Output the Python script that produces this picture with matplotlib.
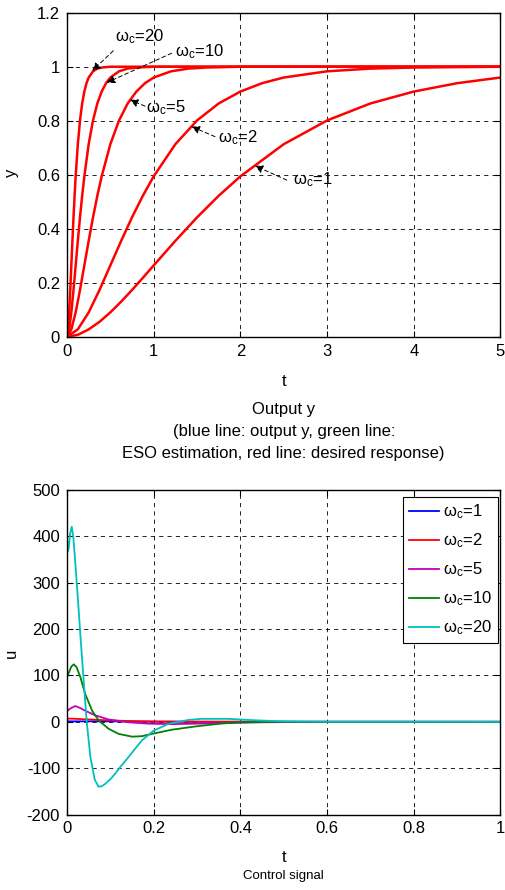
import numpy as np
import matplotlib
matplotlib.use("Agg")
import matplotlib.pyplot as plt

plt.rcParams['font.family'] = ['Liberation Sans', 'DejaVu Sans']
plt.rcParams['font.size'] = 12
plt.rcParams['mathtext.fontset'] = 'custom'
plt.rcParams['mathtext.rm'] = 'Liberation Sans'
plt.rcParams['axes.unicode_minus'] = False

# --- Data: desired response y(t) for each omega_c ---
t_w1 = [0, 0.125, 0.25, 0.375, 0.5, 0.625, 0.75, 0.875, 1, 1.25, 1.5, 1.75, 2, 2.5, 3, 3.5, 4, 4.5, 5]
y_w1 = [0, 0.007, 0.027, 0.055, 0.090, 0.130, 0.173, 0.218, 0.264, 0.355, 0.442, 0.522, 0.594, 0.713, 0.801,
        0.864, 0.908, 0.939, 0.960]

t_w2 = [0, 0.125, 0.25, 0.375, 0.5, 0.625, 0.75, 0.875, 1, 1.25, 1.5, 1.75, 2, 2.25, 2.5, 3, 3.5, 4, 5]
y_w2 = [0, 0.027, 0.090, 0.173, 0.264, 0.355, 0.442, 0.522, 0.594, 0.713, 0.801, 0.864, 0.908, 0.939, 0.960, 0.983, 0.993, 0.997, 1.0]

t_w5 = [0, 0.05, 0.1, 0.15, 0.2, 0.25, 0.3, 0.35, 0.4, 0.5, 0.6, 0.7, 0.8, 0.9, 1.0, 1.2, 1.4, 1.6, 2.0, 5.0]
y_w5 = [0, 0.027, 0.090, 0.173, 0.264, 0.355, 0.442, 0.522, 0.594, 0.713, 0.801, 0.864, 0.908, 0.939, 0.960, 0.983, 0.993, 0.997, 1.0, 1.0]

t_w10 = [0, 0.025, 0.05, 0.075, 0.1, 0.125, 0.15, 0.175, 0.2, 0.25, 0.3, 0.35, 0.4, 0.45, 0.5, 0.6, 0.7, 0.8, 1.0, 5.0]
y_w10 = [0, 0.027, 0.090, 0.173, 0.264, 0.355, 0.442, 0.522, 0.594, 0.713, 0.801, 0.864, 0.908, 0.939, 0.960, 0.983, 0.993, 0.997, 1.0, 1.0]

t_w20 = [0, 0.0125, 0.025, 0.0375, 0.05, 0.0625, 0.075, 0.0875, 0.1, 0.125, 0.15, 0.175, 0.2, 0.225, 0.25, 0.3, 0.35, 0.4, 0.5, 5.0]
y_w20 = [0, 0.027, 0.090, 0.173, 0.264, 0.355, 0.442, 0.522, 0.594, 0.713, 0.801, 0.864, 0.908, 0.939, 0.960, 0.983, 0.993, 0.997, 1.0, 1.0]

# annotation labels: (text, arrow head, arrow tail, text anchor)
ann_labels = ['20', '10', '5', '2', '1']
ann_head = [(0.292, 0.985), (0.458, 0.941), (0.727, 0.877), (1.438, 0.778), (2.168, 0.633)]
ann_tail = [(0.534, 1.059), (1.207, 1.050), (0.900, 0.854), (1.707, 0.741), (2.535, 0.580)]
ann_text = [(0.55, 1.095), (1.25, 1.040), (0.91, 0.833), (1.745, 0.719), (2.61, 0.566)]

# --- Data: control signal u(t) ---
t_u1 = [0, 0.05, 0.1, 0.2, 0.4, 1.0]
u1 = [1, 1, 1, 0.5, 0.2, 0]

t_u2 = [0, 0.02, 0.05, 0.1, 0.15, 0.2, 0.3, 1.0]
u2 = [7, 6.5, 5, 3, 1.5, 0.5, 0, 0]

t_u5 = [0, 0.008, 0.019, 0.03, 0.042, 0.065, 0.096, 0.142, 0.188, 0.242, 0.296, 0.35, 0.45, 0.6, 1.0]
u5 = [23, 29, 34, 30, 24, 14, 5, -1, -4, -5, -4, -3, -1, 0, 0]

t_u10 = [0, 0.005, 0.01, 0.0155, 0.022, 0.031, 0.042, 0.058, 0.073, 0.096, 0.119, 0.15, 0.173, 0.196, 0.242, 0.296, 0.353, 0.4, 0.5, 1.0]
u10 = [96, 108, 119, 124, 118, 96, 60, 24, 3, -15, -26, -32, -31, -26, -17, -10, -4, -1, 0, 0]

t_u20 = [0, 0.002, 0.004, 0.007, 0.011, 0.0145, 0.019, 0.027, 0.031, 0.0385, 0.0455, 0.054, 0.064, 0.073, 0.08,
         0.088, 0.1, 0.111, 0.125, 0.142, 0.158, 0.173, 0.2, 0.235, 0.28, 0.31, 0.37, 0.44, 0.5, 0.6, 1.0]
u20 = [395, 368, 374, 405, 421, 400, 345, 240, 185, 88, 0, -76, -125, -140, -139,
       -134, -124, -112, -95, -76, -57, -40, -19, -4, 4, 6.5, 6.5, 3, 1, 0, 0]

u_labels = ['1', '2', '5', '10', '20']
u_colors = ['#0000ff', '#ff0000', '#bf00bf', '#008000', '#00bfbf']


def style_axes(ax):
    ax.grid(True, color='k', linestyle=(0, (5, 5)), linewidth=0.6)
    ax.tick_params(direction='in', top=True, right=True, length=4, width=0.8, labelsize=12)
    ax.tick_params(axis='x', pad=5)
    ax.tick_params(axis='y', pad=5)
    for sp in ax.spines.values():
        sp.set_linewidth(1.0)


fig = plt.figure(figsize=(5.06, 8.9), dpi=100)

# --- Top panel: output y ---
ax1 = fig.add_axes([0.1324, 0.6217, 0.8567, 0.364])
for tt, yy in [(t_w1, y_w1), (t_w2, y_w2), (t_w5, y_w5), (t_w10, y_w10), (t_w20, y_w20)]:
    ax1.plot(tt, yy, color='#ff0000', linewidth=1.8)

for lab, head, tail, pos in zip(ann_labels, ann_head, ann_tail, ann_text):
    ax1.annotate('', xy=head, xytext=tail,
                 arrowprops=dict(arrowstyle='-|>', linestyle=(0, (4, 3)), lw=0.7, color='k',
                                 mutation_scale=12, shrinkA=0, shrinkB=0))
    ax1.text(pos[0], pos[1], r'$\mathregular{\omega_c}$=' + lab, fontsize=12, ha='left', va='baseline')

ax1.set_xlim(0, 5)
ax1.set_ylim(0, 1.2)
ax1.set_xticks([0, 1, 2, 3, 4, 5])
ax1.set_yticks([0, 0.2, 0.4, 0.6, 0.8, 1.0, 1.2])
ax1.set_yticklabels(['0', '0.2', '0.4', '0.6', '0.8', '1', '1.2'])
style_axes(ax1)
ax1.set_xlabel('t')
ax1.xaxis.label.set_va('center')
ax1.xaxis.set_label_coords(0.5, -0.137)
ax1.set_ylabel('y')
ax1.yaxis.label.set_va('center')
ax1.yaxis.set_label_coords(-0.128, 0.505)

caption = ['Output y', '(blue line: output y, green line:', 'ESO estimation, red line: desired response)']
for i, line in enumerate(caption):
    ax1.text(0.5, -0.226 - i * 0.067, line, transform=ax1.transAxes, ha='center', va='center', fontsize=12)

# --- Bottom panel: control signal u ---
ax2 = fig.add_axes([0.1324, 0.0848, 0.8567, 0.3646])
for tt, uu, lab, col in zip([t_u1, t_u2, t_u5, t_u10, t_u20], [u1, u2, u5, u10, u20], u_labels, u_colors):
    ax2.plot(tt, uu, color=col, linewidth=1.3, label=r'$\mathregular{\omega_c}$=' + lab)

ax2.set_xlim(0, 1)
ax2.set_ylim(-200, 500)
ax2.set_xticks([0, 0.2, 0.4, 0.6, 0.8, 1.0])
ax2.set_xticklabels(['0', '0.2', '0.4', '0.6', '0.8', '1'])
ax2.set_yticks(np.arange(-200, 501, 100))
style_axes(ax2)
ax2.set_xlabel('t')
ax2.xaxis.label.set_va('center')
ax2.xaxis.set_label_coords(0.5, -0.131)
ax2.set_ylabel('u')
ax2.yaxis.label.set_va('center')
ax2.yaxis.set_label_coords(-0.128, 0.498)
ax2.text(0.5, -0.19, 'Control signal', transform=ax2.transAxes, ha='center', va='center', fontsize=9.5)

leg = ax2.legend(loc='upper right', bbox_to_anchor=(0.995, 0.98), borderaxespad=0, fontsize=12,
                 fancybox=False, edgecolor='k', framealpha=1, handlelength=1.8, handletextpad=0.25,
                 labelspacing=0.62, borderpad=0.35)
leg.get_frame().set_linewidth(0.8)

fig.savefig('out.png', dpi=100)
